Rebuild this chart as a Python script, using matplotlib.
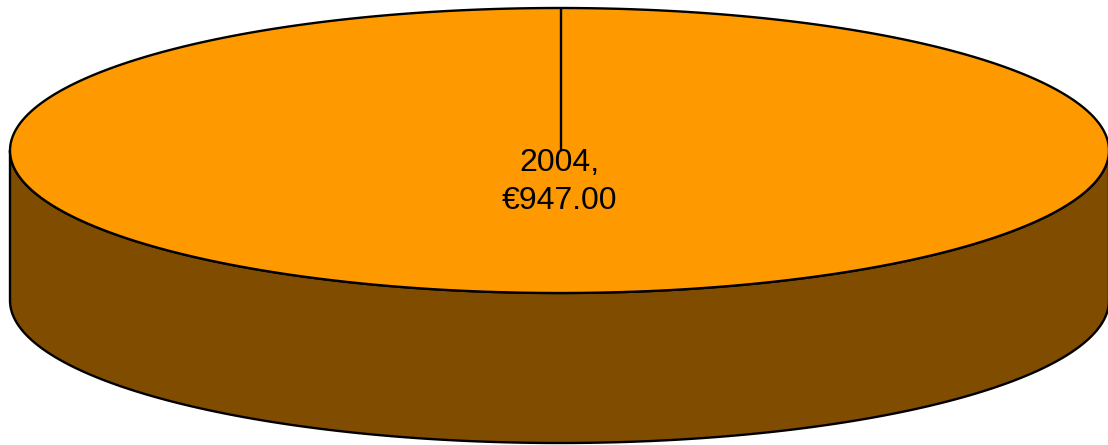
import numpy as np
import matplotlib
matplotlib.use("Agg")
import matplotlib.pyplot as plt
from matplotlib.patches import Polygon

# Data
categories = ["2004"]
values = [947.00]
top_colors = ["#FF9900"]
side_colors = ["#7F4C00"]

W, H = 1108, 445
fig = plt.figure(figsize=(W / 100, H / 100), dpi=100)
ax = fig.add_axes([0, 0, 1, 1])
ax.set_xlim(0, W)
ax.set_ylim(H, 0)
ax.axis("off")

cx, cy = 559.5, 150.5
rx, ry = 549.5, 142.5
depth = 150
lw = 1.7

def pt(theta, dy=0.0):
    return cx + rx * np.cos(theta), cy + ry * np.sin(theta) + dy

total = float(sum(values))
start = -np.pi / 2
angles = []
a = start
for v in values:
    span = 2 * np.pi * v / total
    angles.append((a, a + span))
    a += span

# Side walls (front half)
for (a0, a1), sc in zip(angles, side_colors):
    for k in (-1, 0, 1):
        lo = max(a0, k * 2 * np.pi + 0.0)
        hi = min(a1, k * 2 * np.pi + np.pi)
        if hi > lo:
            t = np.linspace(lo, hi, 200)
            xs, ys = pt(t)
            xb, yb = pt(t[::-1], depth)
            poly = np.column_stack([np.concatenate([xs, xb]), np.concatenate([ys, yb])])
            ax.add_patch(Polygon(poly, closed=True, facecolor=sc, edgecolor="black",
                                 linewidth=lw, joinstyle="round"))

# Top faces
for (a0, a1), tc in zip(angles, top_colors):
    t = np.linspace(a0, a1, 400)
    xs, ys = pt(t)
    if len(values) > 1:
        xs = np.concatenate([[cx], xs])
        ys = np.concatenate([[cy], ys])
    ax.add_patch(Polygon(np.column_stack([xs, ys]), closed=True, facecolor=tc,
                         edgecolor="black", linewidth=lw, joinstyle="round"))
    ex, ey = pt(a0)
    ax.plot([cx + 1, ex + 1], [cy, ey], color="black", linewidth=lw, solid_capstyle="butt")

# Labels
for cat, v in zip(categories, values):
    ax.text(cx, 182, f"{cat},\n\u20ac{v:,.2f}", ha="center", va="center",
            fontsize=23, family=["Liberation Sans", "DejaVu Sans"], linespacing=1.38,
            color="black")

fig.savefig("out.png", dpi=100)
